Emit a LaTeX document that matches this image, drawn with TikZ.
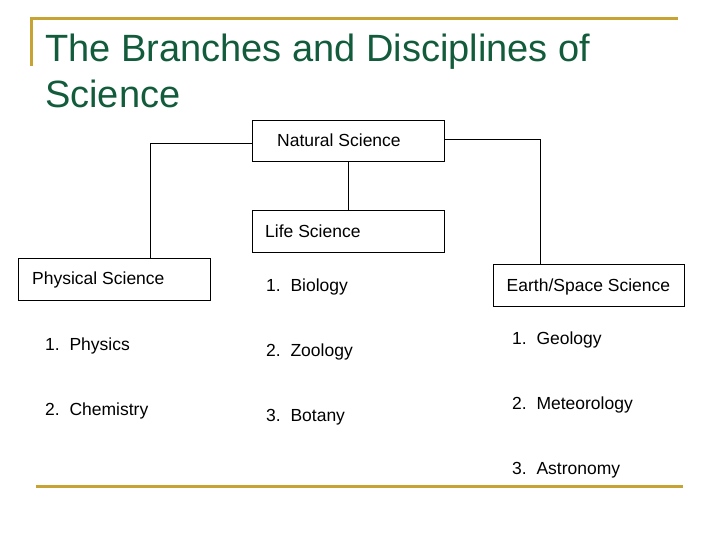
\documentclass[tikz,border=0pt]{standalone}
\usepackage{fontspec}
\setmainfont{Liberation Sans}
\usetikzlibrary{calc}
\definecolor{gold}{RGB}{198,163,50}
\definecolor{titlegreen}{RGB}{18,92,60}
\begin{document}
\begin{tikzpicture}[x=1pt,y=-1pt,
  goldline/.style={draw=gold,line width=3pt},
  boxnode/.style={draw=black,line width=0.9pt,inner sep=0pt,anchor=north west},
  txt/.style={inner sep=0pt,anchor=base west,font=\fontsize{17.5}{21}\selectfont},
  titletxt/.style={inner sep=0pt,anchor=base west,text=titlegreen,font=\fontsize{38}{46}\selectfont},
  conn/.style={draw=black,line width=0.9pt}]
\useasboundingbox (0,0) rectangle (720,540);
% gold frame lines
\draw[goldline] (29.5,18.5) -- (678,18.5);
\draw[goldline] (31,17) -- (31,66);
\draw[goldline] (36,486) -- (683,486);
% title
\node[titletxt] (title1) at (45,62) {The Branches and Disciplines of};
\node[titletxt] (title2) at (45,108) {Science};
% boxes
\node[boxnode,minimum width=192pt,minimum height=41pt] (nat) at (252,120) {};
\node[boxnode,minimum width=192pt,minimum height=42pt] (life) at (252,210) {};
\node[boxnode,minimum width=192pt,minimum height=42pt] (phys) at (18,258) {};
\node[boxnode,minimum width=191pt,minimum height=42pt] (earth) at (493,264) {};
% box labels
\node[txt] (natT) at (277,147) {Natural Science};
\node[txt] (lifeT) at (265,237) {Life Science};
\node[txt] (physT) at (32,284) {Physical Science};
\node[txt] (earthT) at (506.5,291) {Earth/Space Science};
% connectors
\draw[conn] ($(nat.west)+(0,2.5)$) -| ($(phys.north west)+(132.7,0)$);
\draw[conn] ($(nat.east)+(0,-1.5)$) -| ($(earth.north west)+(47.7,0)$);
\draw[conn] (nat.south) -- (life.north);
% lists
\node[txt] (bio) at (266,291) {1.~~Biology};
\node[txt] (zoo) at (266,356) {2.~~Zoology};
\node[txt] (bot) at (266,421) {3.~~Botany};
\node[txt] (phy) at (45,350) {1.~~Physics};
\node[txt] (chem) at (45,415) {2.~~Chemistry};
\node[txt] (geo) at (512,344) {1.~~Geology};
\node[txt] (met) at (512,409) {2.~~Meteorology};
\node[txt] (ast) at (512,474) {3.~~Astronomy};
\end{tikzpicture}
\end{document}
